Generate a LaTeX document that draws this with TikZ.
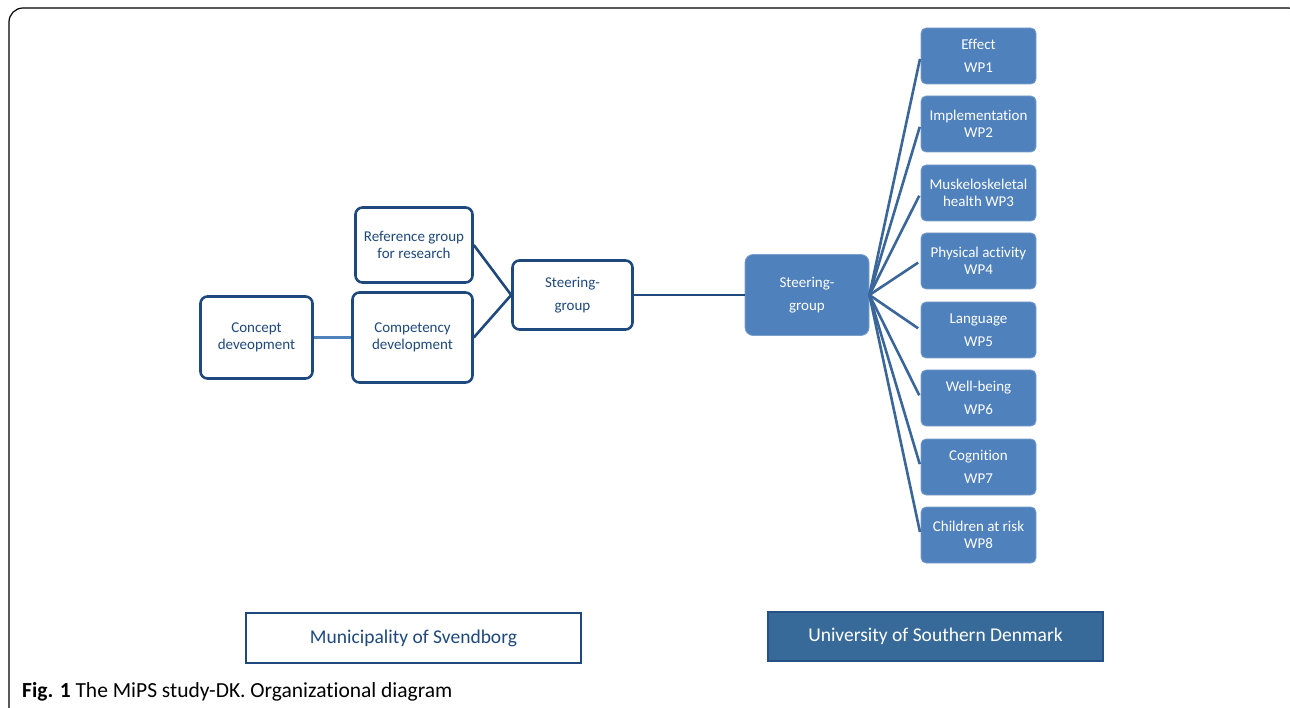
\documentclass[tikz,border=0pt]{standalone}
\usepackage{fontspec}
\setmainfont{Carlito}[RawFeature={-liga;-clig;-dlig;-calt}]
\usetikzlibrary{positioning}
\definecolor{darkblue}{HTML}{1F497D}
\definecolor{boxblue}{HTML}{4F81BD}
\definecolor{lineblue}{HTML}{3A6699}
\definecolor{unisblue}{HTML}{376A99}

\begin{document}
\begin{tikzpicture}[x=1pt,y=-1pt,
	outline/.style={draw=darkblue, line width=2.6pt, rounded corners=7pt, fill=white, text=darkblue, align=center, inner sep=0pt, font=\fontsize{15}{17}\selectfont},
	filled/.style={draw=boxblue!75!white, line width=0.8pt, rounded corners=5pt, fill=boxblue, text=white, align=center, inner sep=0pt, font=\fontsize{15}{17}\selectfont},
	wpbox/.style={filled, minimum width=115pt, minimum height=56pt},
	fan/.style={draw=lineblue, line width=2.6pt, shorten >=3pt},
	link/.style={draw=darkblue, line width=2.6pt}]
	\useasboundingbox (0,0) rectangle (1290,708);
	\clip (0,0) rectangle (1290,708);
	% frame
	\draw[line width=1.2pt, rounded corners=14pt] (9,720) -- (9,8) -- (1302,8) -- (1302,30);
	
	% municipality side
	\node[outline, minimum width=112pt, minimum height=82pt] (concept) at (256.5,337.5) {Concept\\deveopment};
	\node[outline, minimum width=117pt, minimum height=75pt] (refgroup) at (414,245) {Reference group\\for research};
	\node[outline, minimum width=120pt, minimum height=90pt] (competency) at (412.5,337.5) {Competency\\development};
	\node[outline, minimum width=120pt, minimum height=69pt] (steerL) at (572.5,295) {Steering-\\[6pt]group};
	
	% university side
	\node[filled, rounded corners=8pt, minimum width=124pt, minimum height=81pt] (steerR) at (807,295) {Steering-\\[6pt]group};
	\node[wpbox] (wp1) at (978.5,56) {Effect\\[6pt]WP1};
	\node[wpbox] (wp2) at (978.5,124) {Implementation\\WP2};
	\node[wpbox] (wp3) at (978.5,193) {Muskeloskeletal\\health WP3};
	\node[wpbox] (wp4) at (978.5,261) {Physical activity\\WP4};
	\node[wpbox] (wp5) at (978.5,330) {Language\\[6pt]WP5};
	\node[wpbox] (wp6) at (978.5,398) {Well-being\\[6pt]WP6};
	\node[wpbox] (wp7) at (978.5,467) {Cognition\\[6pt]WP7};
	\node[wpbox] (wp8) at (978.5,535) {Children at risk\\WP8};
	
	% connectors
	\draw[draw=boxblue, line width=2.6pt] (concept.east) -- (competency.west);
	\draw[link] (refgroup.east) -- (steerL.west);
	\draw[link] (competency.east) -- (steerL.west);
	\draw[link] (steerL.east) -- (steerR.west);
	\foreach \i in {1,...,8}
		\draw[fan] (steerR.east) -- (wp\i.west);
	
	% organisations
	\node[draw=darkblue, line width=2pt, fill=white, text=darkblue, minimum width=335pt, minimum height=50pt, font=\fontsize{19.5}{22}\selectfont] (municipality) at (413.5,638) {Municipality of Svendborg};
	\node[draw=darkblue!85!boxblue, line width=2pt, fill=unisblue, text=white, minimum width=335pt, minimum height=49pt, font=\fontsize{19.5}{22}\selectfont] (university) at (935.5,636.5) {University of Southern Denmark};
	
	\node[anchor=base west, inner sep=0pt, font=\fontsize{21.5}{24}\selectfont] (caption) at (22,697) {\textbf{Fig. 1} The MiPS study-DK. Organizational diagram};
\end{tikzpicture}
\end{document}
